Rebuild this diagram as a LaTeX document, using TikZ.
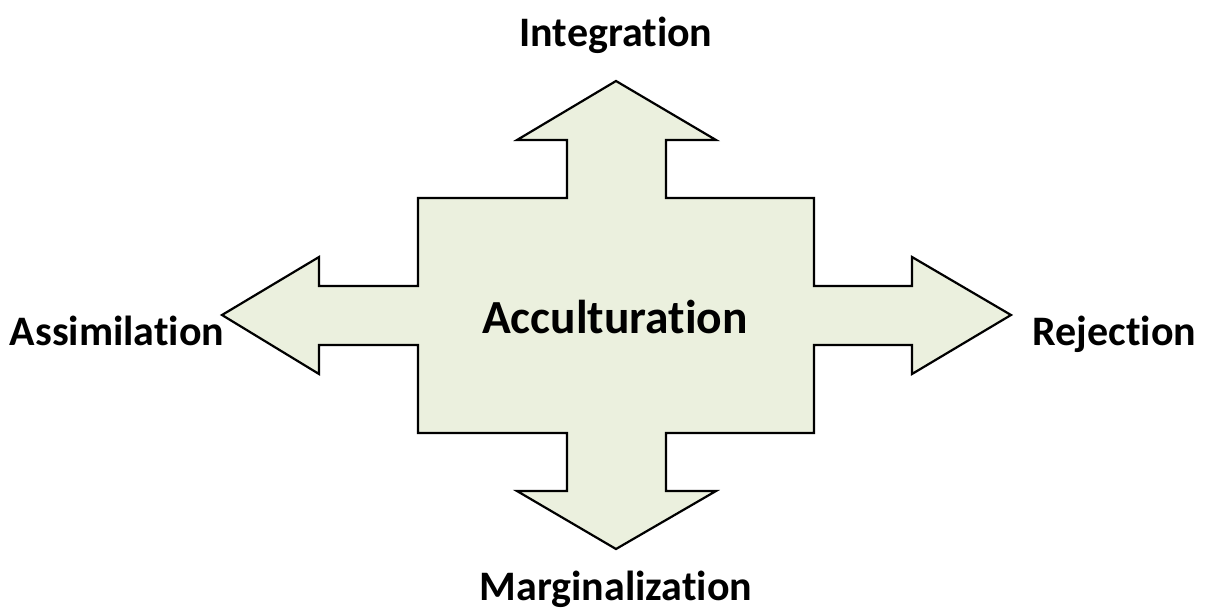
\documentclass[tikz,border=0pt]{standalone}
\usepackage{fontspec}
\setmainfont{Carlito}[Ligatures={NoCommon}]
\definecolor{shapefill}{RGB}{235,240,222}
\tikzset{
  cross/.style={draw=black, line width=2.2pt, fill=shapefill, line join=miter},
  lbl/.style={anchor=base, inner sep=0pt, font=\fontsize{42}{46}\selectfont\bfseries},
  mainlbl/.style={anchor=base, inner sep=0pt, font=\fontsize{47.5}{52}\selectfont\bfseries}
}
\begin{document}
\begin{tikzpicture}[x=1pt, y=-1pt]
\useasboundingbox (0,0) rectangle (1205,613);
\draw[cross] (418,198) -- (567,198) -- (567,140) -- (517,140) -- (616,81) -- (716,140) -- (666,140) -- (666,198)
  -- (814,198) -- (814,286) -- (912,286) -- (912,257) -- (1011,315) -- (912,374) -- (912,345) -- (814,345)
  -- (814,433) -- (666,433) -- (666,491) -- (716,491) -- (616,549) -- (517,491) -- (567,491) -- (567,433)
  -- (418,433) -- (418,345) -- (319,345) -- (319,374) -- (222,315) -- (319,257) -- (319,286) -- (418,286) -- cycle;
\node[mainlbl] (acc) at (615,333) {Acculturation};
\node[lbl] (int) at (616,46.5) {Integration};
\node[lbl] (ass) at (117,345) {Assimilation};
\node[lbl] (rej) at (1114.5,345) {Rejection};
\node[lbl] (mar) at (616,600) {Marginalization};
\end{tikzpicture}
\end{document}
